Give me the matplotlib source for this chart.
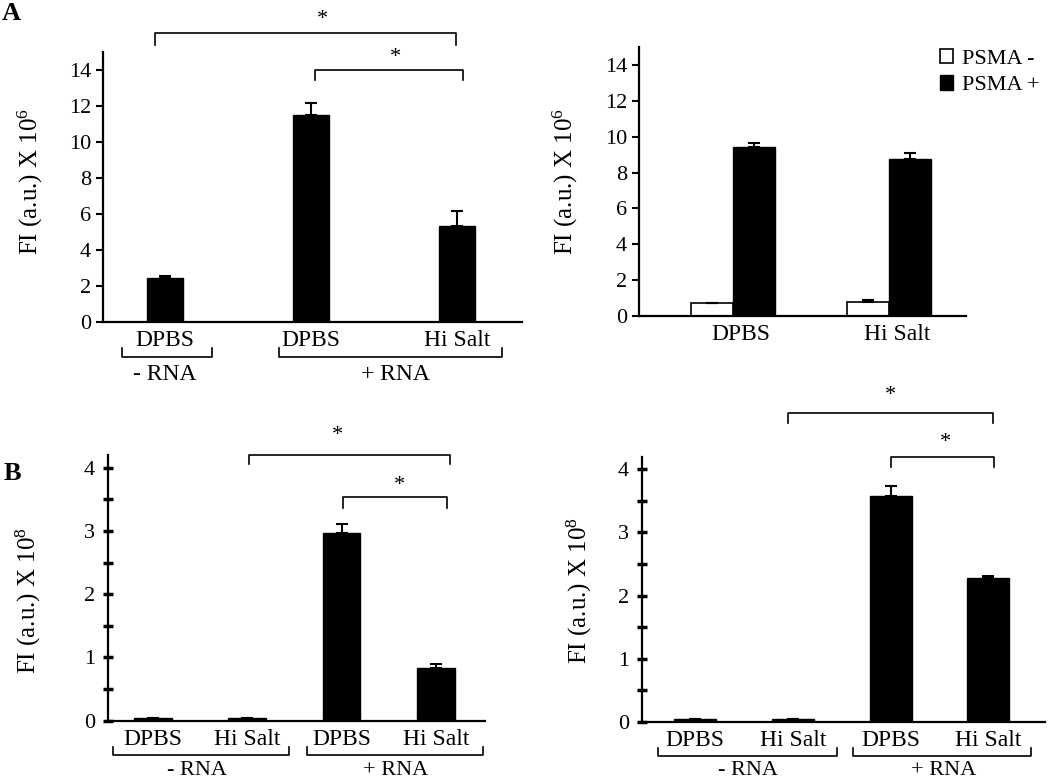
import numpy as np
import matplotlib
matplotlib.use("Agg")
import matplotlib.pyplot as plt
from matplotlib.patches import Patch

plt.rcParams["font.family"] = ["Liberation Serif", "DejaVu Serif"]
plt.rcParams["mathtext.default"] = "regular"

# ===============================
# Data
# ===============================
# A, left: -RNA DPBS, +RNA DPBS, +RNA Hi Salt (x 10^6)
a1_labels = ["DPBS", "DPBS", "Hi Salt"]
a1_vals = [2.45, 11.5, 5.35]
a1_err = [0.12, 0.65, 0.8]

# A, right: PSMA- / PSMA+ for DPBS and Hi Salt (x 10^6)
a2_groups = ["DPBS", "Hi Salt"]
a2_neg = [0.7, 0.8]
a2_neg_err = [0.0, 0.1]
a2_pos = [9.42, 8.78]
a2_pos_err = [0.25, 0.33]

# B, left (x 10^8)
b1_labels = ["DPBS", "Hi Salt", "DPBS", "Hi Salt"]
b1_vals = [0.04, 0.04, 2.97, 0.84]
b1_err = [0.0, 0.0, 0.14, 0.05]

# B, right (x 10^8)
b2_labels = ["DPBS", "Hi Salt", "DPBS", "Hi Salt"]
b2_vals = [0.04, 0.04, 3.57, 2.27]
b2_err = [0.0, 0.0, 0.16, 0.04]

W, H = 1050, 783
fig = plt.figure(figsize=(W / 100, H / 100), dpi=100)


def px_axes(left, right, bottom, top):
    return fig.add_axes([left / W, 1 - bottom / H, (right - left) / W, (bottom - top) / H])


def style_axes(ax):
    for s in ["top", "right"]:
        ax.spines[s].set_visible(False)
    for s in ["left", "bottom"]:
        ax.spines[s].set_linewidth(1.6)
    ax.tick_params(axis="x", length=0, labelsize=17, pad=6)
    ax.tick_params(axis="y", labelsize=16, width=1.5)


def sig_bracket(ax, x0, x1, y, drop, star_x, star_y):
    ax.plot([x0, x0, x1, x1], [y - drop, y, y, y - drop], color="black", lw=1.2, clip_on=False)
    ax.text(star_x, star_y, "*", ha="center", va="center", fontsize=16, clip_on=False)


def group_bracket(ax, x0, x1, y, rise, label, label_x, label_y, size=17):
    ax.plot([x0, x0, x1, x1], [y + rise, y, y, y + rise], color="black", lw=1.2, clip_on=False)
    ax.text(label_x, label_y, label, ha="center", va="center", fontsize=size, clip_on=False)


# ===============================
# Panel A left
# ===============================
ax = px_axes(103, 522, 322, 52)
pos = np.arange(len(a1_vals))
ax.bar(pos, a1_vals, width=0.25, color="black", edgecolor="black",
       yerr=[np.zeros(len(a1_err)), a1_err], capsize=4,
       error_kw=dict(elinewidth=1.5, capthick=1.5))
ax.set_xlim(-0.425, 2.445)
ax.set_ylim(0, 15)
ax.set_yticks(np.arange(0, 15, 2))
ax.set_xticks(pos)
ax.set_xticklabels(a1_labels)
style_axes(ax)
ax.tick_params(axis="y", direction="out", length=5)
ax.set_ylabel(r"FI (a.u.) X 10$^{6}$", fontsize=18)
ax.yaxis.set_label_coords(-0.138, 0.52)
sig_bracket(ax, -0.07, 1.99, 16.05, 0.65, 1.08, 16.8)
sig_bracket(ax, 1.03, 2.04, 14.0, 0.55, 1.58, 14.7)
group_bracket(ax, -0.295, 0.32, -1.94, 0.5, "- RNA", 0.0, -2.9)
group_bracket(ax, 0.78, 2.31, -1.94, 0.5, "+ RNA", 1.58, -2.9)

# ===============================
# Panel A right
# ===============================
ax = px_axes(639, 966, 316, 47)
gpos = np.arange(len(a2_groups))
bw = 0.27
ax.bar(gpos - bw / 2, a2_neg, width=bw, color="white", edgecolor="black", linewidth=1.2,
       yerr=[np.zeros(len(a2_neg_err)), a2_neg_err], capsize=4,
       error_kw=dict(elinewidth=1.5, capthick=1.5))
ax.bar(gpos + bw / 2, a2_pos, width=bw, color="black", edgecolor="black",
       yerr=[np.zeros(len(a2_pos_err)), a2_pos_err], capsize=4,
       error_kw=dict(elinewidth=1.5, capthick=1.5))
ax.set_xlim(-0.603, 1.494)
ax.set_ylim(0, 15)
ax.set_yticks(np.arange(0, 15, 2))
ax.set_xticks(gpos + 0.05)
ax.set_xticklabels(a2_groups)
style_axes(ax)
ax.tick_params(axis="y", direction="out", length=5)
ax.set_ylabel(r"FI (a.u.) X 10$^{6}$", fontsize=18)
ax.yaxis.set_label_coords(-0.18, 0.50)
handles = [Patch(facecolor="white", edgecolor="black", linewidth=1.2, label="PSMA -"),
           Patch(facecolor="black", edgecolor="black", label="PSMA +")]
fig.legend(handles=handles, loc="upper left", bbox_to_anchor=(931 / W, 1 - 40 / H),
           frameon=False, fontsize=16, handlelength=0.6, handleheight=0.6,
           handletextpad=0.4, labelspacing=0.3, borderaxespad=0)

# ===============================
# Panel B left
# ===============================
ax = px_axes(108, 485, 720.7, 455)
pos = np.arange(len(b1_vals))
ax.bar(pos, b1_vals, width=0.40, color="black", edgecolor="black",
       yerr=[np.zeros(len(b1_err)), b1_err], capsize=4,
       error_kw=dict(elinewidth=1.5, capthick=1.5))
ax.set_xlim(-0.477, 3.52)
ax.set_ylim(0, 4.2)
ax.set_yticks(np.arange(0, 5, 1))
ax.set_yticks(np.arange(0, 4.5, 0.5), minor=True)
ax.set_xticks(pos)
ax.set_xticklabels(b1_labels)
style_axes(ax)
ax.tick_params(axis="y", which="both", direction="inout", length=7, width=2.5)
ax.tick_params(axis="y", which="major", pad=6)
ax.set_ylabel(r"FI (a.u.) X 10$^{8}$", fontsize=18)
ax.yaxis.set_label_coords(-0.172, 0.454)
sig_bracket(ax, 1.02, 3.15, 4.20, 0.14, 1.96, 4.51)
sig_bracket(ax, 2.01, 3.12, 3.53, 0.17, 2.61, 3.71)
group_bracket(ax, -0.424, 1.44, -0.55, 0.13, "- RNA", 0.47, -0.79, size=16)
group_bracket(ax, 1.63, 3.50, -0.55, 0.13, "+ RNA", 2.57, -0.79, size=16)

# ===============================
# Panel B right
# ===============================
ax = px_axes(642, 1045, 721.7, 456.7)
pos = np.arange(len(b2_vals))
ax.bar(pos, b2_vals, width=0.43, color="black", edgecolor="black",
       yerr=[np.zeros(len(b2_err)), b2_err], capsize=4,
       error_kw=dict(elinewidth=1.5, capthick=1.5))
ax.set_xlim(-0.542, 3.58)
ax.set_ylim(0, 4.2)
ax.set_yticks(np.arange(0, 5, 1))
ax.set_yticks(np.arange(0, 4.5, 0.5), minor=True)
ax.set_xticks(pos)
ax.set_xticklabels(b2_labels)
style_axes(ax)
ax.tick_params(axis="y", which="both", direction="inout", length=7, width=2.5)
ax.tick_params(axis="y", which="major", pad=6)
ax.set_ylabel(r"FI (a.u.) X 10$^{8}$", fontsize=18)
ax.yaxis.set_label_coords(-0.12, 0.497)
sig_bracket(ax, 0.95, 3.05, 4.89, 0.15, 2.0, 5.17)
sig_bracket(ax, 2.0, 3.06, 4.20, 0.17, 2.56, 4.43)
group_bracket(ax, -0.38, 1.45, -0.55, 0.14, "- RNA", 0.54, -0.78, size=16)
group_bracket(ax, 1.62, 3.44, -0.55, 0.14, "+ RNA", 2.54, -0.78, size=16)

# panel letters
fig.text(2 / W, 1 - 2 / H, "A", fontsize=19, fontweight="bold", ha="left", va="top")
fig.text(4 / W, 1 - 462 / H, "B", fontsize=19, fontweight="bold", ha="left", va="top")

fig.savefig("out.png", dpi=100)
